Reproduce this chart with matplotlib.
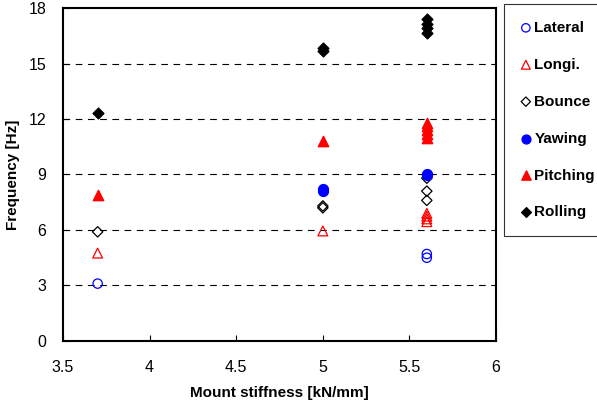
import matplotlib
matplotlib.use('Agg')
import matplotlib.pyplot as plt

plt.rcParams['font.family'] = ['Liberation Sans', 'DejaVu Sans']

# Frequency [Hz] per mode at each mount stiffness
lateral_x = [3.7, 5.6, 5.6]
lateral_y = [3.1, 4.7, 4.5]
longi_x = [3.7, 5.0, 5.6, 5.6, 5.6, 5.6]
longi_y = [4.75, 5.95, 6.9, 6.75, 6.6, 6.45]
bounce_x = [3.7, 5.0, 5.0, 5.6, 5.6, 5.6]
bounce_y = [5.9, 7.2, 7.3, 8.8, 8.1, 7.6]
yawing_x = [5.0, 5.0, 5.6, 5.6]
yawing_y = [8.2, 8.1, 9.0, 8.95]
pitching_x = [3.7, 5.0, 5.6, 5.6, 5.6, 5.6, 5.6]
pitching_y = [7.9, 10.8, 11.8, 11.6, 11.4, 11.2, 11.0]
rolling_x = [3.7, 5.0, 5.0, 5.6, 5.6, 5.6, 5.6]
rolling_y = [12.3, 15.7, 15.85, 17.4, 17.15, 16.9, 16.65]

fig = plt.figure(figsize=(5.97, 4.03), dpi=100)
ax = fig.add_axes([0.1055, 0.154, 0.7255, 0.826])

ax.scatter(lateral_x, lateral_y, marker='o', s=45, facecolors='none', edgecolors='#0000ff', linewidths=0.9, label='Lateral', zorder=3)
ax.scatter(longi_x, longi_y, marker='^', s=50, facecolors='none', edgecolors='#ff0000', linewidths=0.9, label='Longi.', zorder=3)
ax.scatter(bounce_x, bounce_y, marker='D', s=28, facecolors='none', edgecolors='black', linewidths=0.9, label='Bounce', zorder=3)
ax.scatter(yawing_x, yawing_y, marker='o', s=50, color='#0000ff', label='Yawing', zorder=3)
ax.scatter(pitching_x, pitching_y, marker='^', s=55, color='#ff0000', label='Pitching', zorder=3)
ax.scatter(rolling_x, rolling_y, marker='D', s=30, color='black', label='Rolling', zorder=3)

ax.set_xlim(3.5, 6)
ax.set_ylim(0, 18)
ax.set_xticks([3.5, 4, 4.5, 5, 5.5, 6])
ax.set_xticklabels(['3.5', '4', '4.5', '5', '5.5', '6'])
ax.set_yticks([0, 3, 6, 9, 12, 15, 18])
ax.tick_params(direction='in', labelsize=11.5, length=4, width=0.8)
ax.tick_params(axis='x', pad=14)
ax.tick_params(axis='y', pad=12)
for y in [3, 6, 9, 12, 15]:
    ax.axhline(y, color='black', linestyle=(0, (6, 5)), linewidth=0.8, zorder=1)
for s in ax.spines.values():
    s.set_linewidth(1.5)

ax.set_xlabel('Mount stiffness [kN/mm]', fontsize=11, fontweight='bold', labelpad=8)
ax.set_ylabel('Frequency [Hz]', fontsize=11, fontweight='bold', labelpad=6)

leg = fig.legend(loc='upper left', bbox_to_anchor=(0.845, 0.99), frameon=True, fancybox=False,
                 edgecolor='black', handletextpad=0.25, labelspacing=1.5, borderpad=1.1,
                 handlelength=0.6, borderaxespad=0, markerscale=0.9,
                 prop={'weight': 'bold', 'size': 11})
leg.get_frame().set_linewidth(0.8)

plt.savefig('out.png', dpi=100)
